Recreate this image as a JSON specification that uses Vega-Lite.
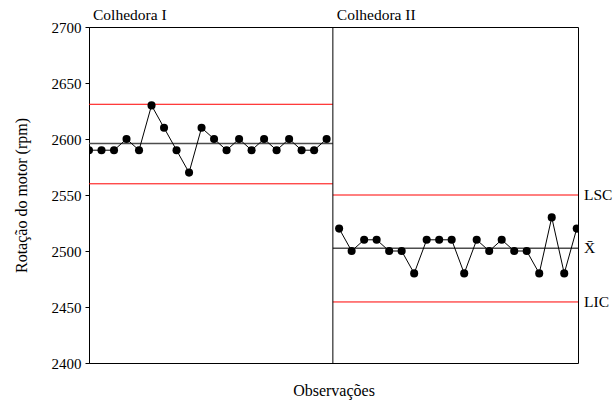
{
  "$schema": "https://vega.github.io/schema/vega-lite/v6.json",
  "width": 489,
  "height": 336,
  "autosize": "none",
  "padding": {"left": 89, "top": 27, "right": 35, "bottom": 40},
  "config": {
    "font": "Liberation Serif",
    "view": {"stroke": "black", "strokeWidth": 1},
    "text": {"font": "Liberation Serif"},
    "axis": {"grid": false, "labelFont": "Liberation Serif", "titleFont": "Liberation Serif", "labelColor": "black", "titleColor": "black", "titleFontWeight": "normal", "domainColor": "black", "tickColor": "black"}
  },
  "datasets": {
    "obs": [
      {"obs": 1, "rpm": 2590, "grupo": "Colhedora I"},
      {"obs": 2, "rpm": 2590, "grupo": "Colhedora I"},
      {"obs": 3, "rpm": 2590, "grupo": "Colhedora I"},
      {"obs": 4, "rpm": 2600, "grupo": "Colhedora I"},
      {"obs": 5, "rpm": 2590, "grupo": "Colhedora I"},
      {"obs": 6, "rpm": 2630, "grupo": "Colhedora I"},
      {"obs": 7, "rpm": 2610, "grupo": "Colhedora I"},
      {"obs": 8, "rpm": 2590, "grupo": "Colhedora I"},
      {"obs": 9, "rpm": 2570, "grupo": "Colhedora I"},
      {"obs": 10, "rpm": 2610, "grupo": "Colhedora I"},
      {"obs": 11, "rpm": 2600, "grupo": "Colhedora I"},
      {"obs": 12, "rpm": 2590, "grupo": "Colhedora I"},
      {"obs": 13, "rpm": 2600, "grupo": "Colhedora I"},
      {"obs": 14, "rpm": 2590, "grupo": "Colhedora I"},
      {"obs": 15, "rpm": 2600, "grupo": "Colhedora I"},
      {"obs": 16, "rpm": 2590, "grupo": "Colhedora I"},
      {"obs": 17, "rpm": 2600, "grupo": "Colhedora I"},
      {"obs": 18, "rpm": 2590, "grupo": "Colhedora I"},
      {"obs": 19, "rpm": 2590, "grupo": "Colhedora I"},
      {"obs": 20, "rpm": 2600, "grupo": "Colhedora I"},
      {"obs": 21, "rpm": 2520, "grupo": "Colhedora II"},
      {"obs": 22, "rpm": 2500, "grupo": "Colhedora II"},
      {"obs": 23, "rpm": 2510, "grupo": "Colhedora II"},
      {"obs": 24, "rpm": 2510, "grupo": "Colhedora II"},
      {"obs": 25, "rpm": 2500, "grupo": "Colhedora II"},
      {"obs": 26, "rpm": 2500, "grupo": "Colhedora II"},
      {"obs": 27, "rpm": 2480, "grupo": "Colhedora II"},
      {"obs": 28, "rpm": 2510, "grupo": "Colhedora II"},
      {"obs": 29, "rpm": 2510, "grupo": "Colhedora II"},
      {"obs": 30, "rpm": 2510, "grupo": "Colhedora II"},
      {"obs": 31, "rpm": 2480, "grupo": "Colhedora II"},
      {"obs": 32, "rpm": 2510, "grupo": "Colhedora II"},
      {"obs": 33, "rpm": 2500, "grupo": "Colhedora II"},
      {"obs": 34, "rpm": 2510, "grupo": "Colhedora II"},
      {"obs": 35, "rpm": 2500, "grupo": "Colhedora II"},
      {"obs": 36, "rpm": 2500, "grupo": "Colhedora II"},
      {"obs": 37, "rpm": 2480, "grupo": "Colhedora II"},
      {"obs": 38, "rpm": 2530, "grupo": "Colhedora II"},
      {"obs": 39, "rpm": 2480, "grupo": "Colhedora II"},
      {"obs": 40, "rpm": 2520, "grupo": "Colhedora II"}
    ],
    "limites": [
      {"grupo": "Colhedora I", "inicio": 1, "fim": 20.5, "valor": 2631, "tipo": "limite"},
      {"grupo": "Colhedora I", "inicio": 1, "fim": 20.5, "valor": 2596, "tipo": "media"},
      {"grupo": "Colhedora I", "inicio": 1, "fim": 20.5, "valor": 2560, "tipo": "limite"},
      {"grupo": "Colhedora II", "inicio": 20.5, "fim": 40.1, "valor": 2550, "tipo": "limite"},
      {"grupo": "Colhedora II", "inicio": 20.5, "fim": 40.1, "valor": 2502.5, "tipo": "media"},
      {"grupo": "Colhedora II", "inicio": 20.5, "fim": 40.1, "valor": 2454.5, "tipo": "limite"}
    ],
    "paineis": [
      {"rotulo": "Colhedora I", "x": 1, "y": 2700},
      {"rotulo": "Colhedora II", "x": 20.5, "y": 2700}
    ],
    "rotulos": [
      {"rotulo": "LSC", "x": 40.1, "y": 2550},
      {"rotulo": "X\u0304", "x": 40.1, "y": 2502.5},
      {"rotulo": "LIC", "x": 40.1, "y": 2454.5}
    ],
    "divisoria": [{"x": 20.5}]
  },
  "layer": [
    {
      "data": {"name": "limites"},
      "mark": {"type": "rule"},
      "encoding": {
        "x": {"field": "inicio", "type": "quantitative", "scale": {"domain": [1, 40.1], "nice": false, "zero": false},
          "axis": {"labels": false, "ticks": false, "domain": false, "title": "Observações", "titleFont": "Liberation Serif", "titleFontSize": 16, "titleFontWeight": "normal", "titlePadding": 19}},
        "x2": {"field": "fim"},
        "y": {"field": "valor", "type": "quantitative", "scale": {"domain": [2400, 2700], "nice": false, "zero": false},
          "axis": {"title": "Rotação do motor (rpm)", "format": "d", "values": [2400, 2450, 2500, 2550, 2600, 2650, 2700], "tickSize": 4, "labelPadding": 4, "labelFont": "Liberation Serif", "titleFont": "Liberation Serif", "titleFontWeight": "normal", "labelFontSize": 15, "titleFontSize": 16, "titlePadding": 22}},
        "color": {"field": "tipo", "type": "nominal", "scale": {"domain": ["limite", "media"], "range": ["#ff0000", "#4d4d4d"]}, "legend": null},
        "strokeWidth": {"field": "tipo", "type": "nominal", "scale": {"domain": ["limite", "media"], "range": [1, 1.5]}, "legend": null}
      }
    },
    {
      "data": {"name": "divisoria"},
      "mark": {"type": "rule", "color": "black", "strokeWidth": 1},
      "encoding": {"x": {"field": "x", "type": "quantitative"}}
    },
    {
      "data": {"name": "obs"},
      "mark": {"type": "line", "color": "black", "strokeWidth": 1, "clip": true},
      "encoding": {
        "x": {"field": "obs", "type": "quantitative"},
        "y": {"field": "rpm", "type": "quantitative"},
        "detail": {"field": "grupo"}
      }
    },
    {
      "data": {"name": "obs"},
      "mark": {"type": "circle", "color": "black", "opacity": 1, "size": 65, "clip": true},
      "encoding": {
        "x": {"field": "obs", "type": "quantitative"},
        "y": {"field": "rpm", "type": "quantitative"}
      }
    },
    {
      "data": {"name": "paineis"},
      "mark": {"type": "text", "font": "Liberation Serif", "align": "left", "baseline": "alphabetic", "dx": 4, "dy": -7, "fontSize": 15.5, "color": "black"},
      "encoding": {
        "x": {"field": "x", "type": "quantitative"},
        "y": {"field": "y", "type": "quantitative"},
        "text": {"field": "rotulo"}
      }
    },
    {
      "data": {"name": "rotulos"},
      "mark": {"type": "text", "font": "Liberation Serif", "align": "left", "baseline": "middle", "dx": 6, "fontSize": 15.5, "color": "black"},
      "encoding": {
        "x": {"field": "x", "type": "quantitative"},
        "y": {"field": "y", "type": "quantitative"},
        "text": {"field": "rotulo"}
      }
    }
  ]
}
